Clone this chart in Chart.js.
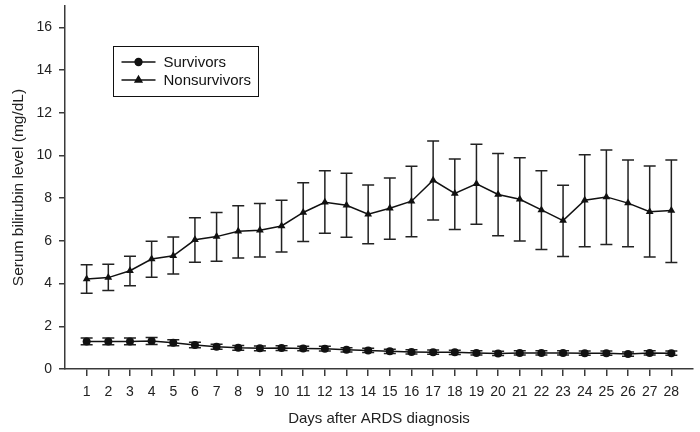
<!DOCTYPE html>
<html>
<head>
<meta charset="utf-8">
<script src="https://cdn.jsdelivr.net/npm/chart.js@4/dist/chart.umd.min.js"></script>
<style>
  html, body { margin: 0; padding: 0; background: #fff; }
  #wrap { width: 700px; height: 432px; position: relative; }
</style>
</head>
<body>
<div id="wrap"><canvas id="myChart" width="700" height="432"></canvas></div>
<script>
const days = [1, 2, 3, 4, 5, 6, 7, 8, 9, 10, 11, 12, 13, 14, 15, 16, 17, 18, 19, 20, 21, 22, 23, 24, 25, 26, 27, 28];

const survivors = [1.29, 1.29, 1.29, 1.31, 1.23, 1.12, 1.04, 0.99, 0.97, 0.98, 0.96, 0.95, 0.9, 0.87, 0.83, 0.8, 0.79, 0.78, 0.75, 0.73, 0.75, 0.75, 0.75, 0.74, 0.74, 0.7, 0.75, 0.74];
const survivorsHigh = [1.45, 1.45, 1.45, 1.47, 1.37, 1.25, 1.16, 1.1, 1.08, 1.09, 1.06, 1.06, 1.0, 0.97, 0.93, 0.9, 0.89, 0.88, 0.85, 0.83, 0.85, 0.85, 0.85, 0.84, 0.84, 0.8, 0.85, 0.84];
const survivorsLow = [1.13, 1.13, 1.13, 1.15, 1.09, 0.99, 0.92, 0.88, 0.86, 0.87, 0.86, 0.84, 0.8, 0.77, 0.73, 0.7, 0.69, 0.68, 0.65, 0.63, 0.65, 0.65, 0.65, 0.64, 0.64, 0.6, 0.65, 0.64];

const nonsurvivors = [4.22, 4.28, 4.6, 5.15, 5.3, 6.05, 6.2, 6.45, 6.5, 6.7, 7.33, 7.81, 7.67, 7.25, 7.53, 7.86, 8.84, 8.22, 8.67, 8.17, 7.95, 7.45, 6.95, 7.9, 8.06, 7.77, 7.37, 7.42];
const nonsurvivorsHigh = [4.88, 4.9, 5.28, 5.98, 6.18, 7.08, 7.33, 7.65, 7.75, 7.9, 8.72, 9.28, 9.17, 8.62, 8.95, 9.5, 10.68, 9.84, 10.52, 10.09, 9.89, 9.28, 8.61, 10.03, 10.26, 9.79, 9.51, 9.79];
const nonsurvivorsLow = [3.55, 3.68, 3.9, 4.3, 4.45, 5.0, 5.05, 5.2, 5.25, 5.48, 5.97, 6.36, 6.17, 5.86, 6.08, 6.19, 6.98, 6.53, 6.78, 6.24, 5.99, 5.6, 5.27, 5.72, 5.83, 5.72, 5.25, 4.99];

const yTicks = [0, 2, 4, 6, 8, 10, 12, 14, 16];

const axisColor = "#3a3a3a";
const fontFamily = "'Liberation Sans', Arial, sans-serif";

function toPoints(values) {
  return days.map((day, i) => ({ x: day, y: values[i] }));
}

// error bars drawn from the arrays through the chart scales
const errorBars = {
  id: "errorBars",
  beforeDatasetsDraw(chart) {
    const ctx = chart.ctx;
    const xScale = chart.scales.x;
    const yScale = chart.scales.y;
    const sets = [
      { low: survivorsLow, high: survivorsHigh, color: "#222" },
      { low: nonsurvivorsLow, high: nonsurvivorsHigh, color: "#222" },
    ];
    ctx.save();
    ctx.lineWidth = 1.5;
    for (const set of sets) {
      ctx.strokeStyle = set.color;
      days.forEach((day, i) => {
        const x = xScale.getPixelForValue(day);
        const yLo = yScale.getPixelForValue(set.low[i]);
        const yHi = yScale.getPixelForValue(set.high[i]);
        ctx.beginPath();
        ctx.moveTo(x, yLo);
        ctx.lineTo(x, yHi);
        ctx.moveTo(x - 6, yLo);
        ctx.lineTo(x + 6, yLo);
        ctx.moveTo(x - 6, yHi);
        ctx.lineTo(x + 6, yHi);
        ctx.stroke();
      });
    }
    ctx.restore();
  },
};

// boxed legend inside the plot area
const boxLegend = {
  id: "boxLegend",
  afterDraw(chart) {
    const ctx = chart.ctx;
    const left = 113.5;
    const top = 46.5;
    ctx.save();
    ctx.strokeStyle = "#111";
    ctx.lineWidth = 1;
    ctx.strokeRect(left, top, 145, 50);
    const rows = [
      { label: "Survivors", style: "circle", y: 62 },
      { label: "Nonsurvivors", style: "triangle", y: 80 },
    ];
    ctx.font = "15px " + fontFamily;
    ctx.textBaseline = "middle";
    ctx.fillStyle = "#111";
    for (const row of rows) {
      ctx.beginPath();
      ctx.lineWidth = 1.3;
      ctx.moveTo(left + 8, row.y);
      ctx.lineTo(left + 42, row.y);
      ctx.stroke();
      Chart.helpers.drawPoint(ctx, { pointStyle: row.style, radius: row.style === "circle" ? 3.5 : 4, borderWidth: 1 }, left + 25, row.y);
      ctx.fill();
      ctx.fillText(row.label, left + 50, row.y + 1);
    }
    ctx.restore();
  },
};

const data = {
  datasets: [
    {
      label: "Survivors",
      data: toPoints(survivors),
      showLine: true,
      borderColor: "#111",
      backgroundColor: "#111",
      borderWidth: 1.5,
      pointStyle: "circle",
      pointRadius: 4,
      pointBorderWidth: 0,
    },
    {
      label: "Nonsurvivors",
      data: toPoints(nonsurvivors),
      showLine: true,
      borderColor: "#111",
      backgroundColor: "#111",
      borderWidth: 1.5,
      pointStyle: "triangle",
      pointRadius: 4.5,
      pointBorderWidth: 0,
    },
  ],
};

const config = {
  type: "scatter",
  data,
  options: {
    responsive: false,
    animation: false,
    layout: { padding: { top: 6, right: 7, left: 0, bottom: 0 } },
    plugins: {
      legend: { display: false },
      tooltip: { enabled: false },
    },
    scales: {
      x: {
        type: "linear",
        min: 0,
        max: 29,
        afterFit(scale) {
          scale.height = 63;
          scale.paddingLeft = 0;
          scale.paddingRight = 0;
        },
        afterBuildTicks(scale) {
          scale.ticks = days.map((d) => ({ value: d }));
        },
        ticks: {
          stepSize: 1,
          color: "#222",
          padding: 8,
          maxRotation: 0,
          autoSkip: false,
          font: { family: fontFamily, size: 14 },
        },
        grid: {
          drawOnChartArea: false,
          drawTicks: true,
          tickLength: 7,
          color: axisColor,
          lineWidth: 1.5,
        },
        border: { display: true, color: axisColor, width: 1.5 },
        title: {
          display: true,
          text: "Days after ARDS diagnosis",
          color: "#222",
          font: { family: fontFamily, size: 15 },
          padding: { top: 4, bottom: 4 },
        },
      },
      y: {
        type: "linear",
        min: 0,
        max: 17,
        afterFit(scale) {
          scale.width = 65;
          scale.paddingTop = 0;
          scale.paddingBottom = 0;
        },
        afterBuildTicks(scale) {
          scale.ticks = yTicks.map((v) => ({ value: v }));
        },
        ticks: {
          color: "#222",
          padding: 7,
          font: { family: fontFamily, size: 14 },
        },
        grid: {
          drawOnChartArea: false,
          drawTicks: true,
          tickLength: 6,
          color: axisColor,
          lineWidth: 1.5,
        },
        border: { display: true, color: axisColor, width: 1.5 },
        title: {
          display: true,
          text: "Serum bilirubin level (mg/dL)",
          color: "#222",
          font: { family: fontFamily, size: 15.5 },
          padding: { top: 9, bottom: 0 },
        },
      },
    },
  },
  plugins: [errorBars, boxLegend],
};

window.chart = new Chart(document.getElementById("myChart"), config);
</script>
</body>
</html>
